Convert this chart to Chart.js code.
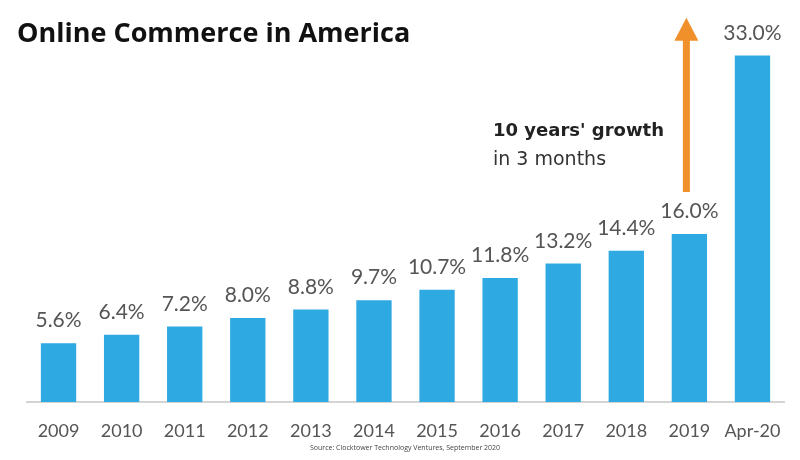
<!DOCTYPE html>
<html>
<head>
<meta charset="utf-8">
<script src="https://cdn.jsdelivr.net/npm/chart.js@4"></script>
<style>
  body { margin: 0; background: #fff; }
  #wrap { position: relative; width: 800px; height: 460px; }
  #title {
    position: absolute; left: 17px; top: 13px;
    font: bold 27px "Open Sans", sans-serif; color: #111;
  }
  #note {
    position: absolute; left: 493px; top: 115px;
    font: 19px "DejaVu Sans", sans-serif; color: #333; line-height: 28px;
  }
  #note b { color: #222; font-size: 18px; }
  #source {
    position: absolute; left: 0; width: 810px; top: 443px; text-align: center;
    font: 7px "Open Sans", sans-serif; color: #444;
  }
</style>
</head>
<body>
<div id="wrap">
  <canvas id="bar-chart" width="800" height="460"></canvas>
  <div id="title">Online Commerce in America</div>
  <div id="note"><b>10 years' growth</b><br>in 3 months</div>
  <div id="source">Source: Clocktower Technology Ventures, September 2020</div>
</div>
<script>
// data
const years = ["2009", "2010", "2011", "2012", "2013", "2014", "2015", "2016", "2017", "2018", "2019", "Apr-20"];
const shares = [5.6, 6.4, 7.2, 8.0, 8.8, 9.7, 10.7, 11.8, 13.2, 14.4, 16.0, 33.0];

// arrow annotation (category + value range)
const arrowAt = "2019";
const arrowFrom = 20;
const arrowTo = 36.6;

const barColor = "#2ea9e1";
const labelColor = "#555";

// value labels above bars
const valueLabels = {
  id: "valueLabels",
  afterDatasetsDraw(chart) {
    const ctx = chart.ctx;
    const meta = chart.getDatasetMeta(0);
    ctx.save();
    ctx.font = "21px Lato, sans-serif";
    ctx.fillStyle = labelColor;
    ctx.textAlign = "center";
    ctx.textBaseline = "bottom";
    meta.data.forEach((bar, i) => {
      ctx.fillText(shares[i].toFixed(1) + "%", bar.x, bar.y - 12);
    });
    ctx.restore();
  },
};

// orange growth arrow
const growthArrow = {
  id: "growthArrow",
  afterDraw(chart) {
    const ctx = chart.ctx;
    const x = chart.scales.x.getPixelForValue(years.indexOf(arrowAt)) - 3;
    const yBottom = chart.scales.y.getPixelForValue(arrowFrom);
    const yTop = chart.scales.y.getPixelForValue(arrowTo);
    ctx.save();
    ctx.fillStyle = "#f0902a";
    ctx.fillRect(x - 3.5, yTop + 20, 7, yBottom - yTop - 20);
    ctx.beginPath();
    ctx.moveTo(x, yTop);
    ctx.lineTo(x + 12, yTop + 23);
    ctx.lineTo(x - 12, yTop + 23);
    ctx.closePath();
    ctx.fill();
    ctx.restore();
  },
};

const barChart = document.getElementById("bar-chart");

new Chart(barChart, {
  type: "bar",
  data: {
    labels: years,
    datasets: [
      {
        label: "Online share",
        data: shares,
        backgroundColor: barColor,
        categoryPercentage: 1,
        barPercentage: 0.56,
      },
    ],
  },
  options: {
    responsive: false,
    animation: false,
    layout: {
      padding: { top: 24, left: 27, right: 16, bottom: 0 },
    },
    plugins: {
      legend: { display: false },
      tooltip: { enabled: false },
    },
    scales: {
      x: {
        grid: { display: false },
        border: { display: true, color: "#d4d4d4", width: 2 },
        ticks: {
          color: labelColor,
          font: { family: "Lato, sans-serif", size: 18 },
          padding: 10,
          maxRotation: 0,
          autoSkip: false,
        },
        afterFit(scale) {
          scale.height = 58;
        },
      },
      y: {
        display: false,
        min: 0,
        max: 36,
      },
    },
  },
  plugins: [valueLabels, growthArrow],
});
</script>
</body>
</html>
